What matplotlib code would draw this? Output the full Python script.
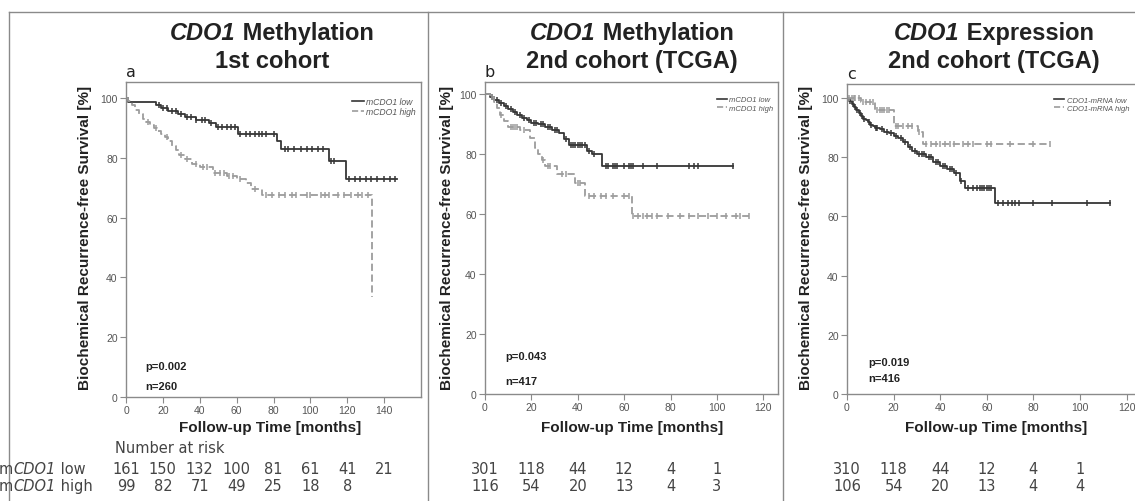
import numpy as np
import matplotlib
matplotlib.use("Agg")
import matplotlib.pyplot as plt
from matplotlib import transforms
from matplotlib.lines import Line2D

W, H = 1135, 502

# ---------------- data ----------------
# panel a: CDO1 methylation, 1st cohort
a_low_t = [0, 1, 16, 19, 23, 28, 32, 38, 45, 49, 61, 82, 84, 110, 119.5]
a_low_s = [100, 98.5, 97.5, 96.5, 95.5, 94.5, 93.5, 92.5, 91.5, 90.2, 88, 85.5, 83, 79, 73]
a_low_end = 147
a_low_cens = [18, 20, 22, 25, 27, 30, 33, 35, 38, 41, 43, 46, 50, 52, 55, 57, 59, 62, 65, 67,
              70, 72, 74, 76, 80, 86, 88, 91, 95, 98, 101, 104, 107, 111, 113, 121, 124, 127,
              130, 133, 136, 140, 143, 146]
a_high_t = [0, 1, 3, 5, 7, 9, 11, 13, 15, 17, 19, 21, 23, 25, 27, 29, 32, 36, 40, 47, 55, 60,
            65, 68, 74, 133.5]
a_high_s = [100, 99, 97.5, 96, 94.5, 93, 92, 91, 90, 89, 88, 87, 85.5, 84, 82.5, 81, 79.5, 78,
            77, 75, 74, 73, 71.5, 69.5, 67.5, 33.5]
a_high_end = 133.5
a_high_cens = [12, 16, 22, 30, 33, 38, 42, 44, 48, 51, 53, 56, 58, 62, 70, 76, 79, 83, 86, 90,
               92, 98, 100, 106, 108, 110, 115, 118, 122, 126, 128, 131]

# panel b: CDO1 methylation, TCGA
b_low_t = [0, 2, 4, 6, 8, 10, 12, 14, 16, 18, 20, 23, 26, 29, 32, 34, 36, 44, 46, 50.5]
b_low_s = [100, 99, 98, 97, 96, 95, 94, 93, 92, 91.5, 90.5, 90, 89, 88, 87, 85, 83, 81, 80, 76]
b_low_end = 107
b_low_cens = [3, 5, 7, 9, 11, 13, 15, 17, 19, 21, 22, 24, 25, 27, 28, 30, 31, 35, 37, 38, 39,
              40, 41, 42, 43, 45, 47, 52, 53, 55, 56, 57, 60, 62, 63, 64, 68, 74, 88, 90, 92, 107]
b_high_t = [0, 2, 4, 5, 6.5, 8, 10, 15, 19.5, 21.5, 23, 24.5, 26, 31, 39, 43, 63.5]
b_high_s = [100, 99, 97.5, 95.5, 93, 91, 89, 88, 85.5, 82, 80, 78, 76, 73.5, 70.5, 66, 59.5]
b_high_end = 114
b_high_cens = [3, 7, 11, 12, 13, 14, 17, 25, 27, 28, 33, 35, 40, 41, 45, 47, 50, 52, 55, 60, 62,
               64, 66, 68, 70, 72, 74, 79, 84, 88, 92, 96, 100, 104, 108, 110, 114]

# panel c: CDO1 expression, TCGA
c_low_t = [0, 1, 2, 3, 4, 5, 6, 7, 8, 9, 10, 11, 12, 14, 16, 18, 20, 22, 24, 26, 28, 30, 34, 37,
           40, 43, 46, 48.5, 50.5, 63.5]
c_low_s = [100, 99, 98, 97, 96, 95, 94, 93, 92.5, 92, 91, 90.5, 90, 89.5, 88.5, 88, 87, 86.5,
           85, 83.5, 82, 81, 80, 78.5, 77, 76, 74.5, 72, 69.5, 64.5]
c_low_end = 113
c_low_cens = [1.5, 2.5, 3.5, 4.5, 5.5, 6.5, 7.5, 9.5, 10.5, 12.5, 13, 15, 17, 19, 21, 23, 25, 27,
              29, 31, 32, 33, 35, 36, 38, 39, 41, 42, 44, 45, 47, 49, 52, 54, 56, 57, 58, 59, 60,
              61, 62, 65, 67, 69, 71, 72, 74, 80, 88, 103, 113]
c_high_t = [0, 6, 12, 20, 30.5, 32.5]
c_high_s = [100, 98.5, 96, 90.5, 88.5, 84.5]
c_high_end = 87
c_high_cens = [1, 2, 3, 3.5, 5, 7, 8, 10, 11, 13, 14, 15, 16, 17, 18, 21, 22, 24, 26, 28, 31, 34,
               36, 38, 40, 42, 44, 46, 50, 52, 54, 60, 62, 70, 80, 87]

titles_1 = [("CDO1", " Methylation"), ("CDO1", " Methylation"), ("CDO1", " Expression")]
titles_2 = ["1st cohort", "2nd cohort (TCGA)", "2nd cohort (TCGA)"]
letters = ["a", "b", "c"]
p_text = ["p=0.002", "p=0.043", "p=0.019"]
n_text = ["n=260", "n=417", "n=416"]
legend_a = ["mCDO1 low", "mCDO1 high"]
legend_c = ["CDO1-mRNA low", "CDO1-mRNA high"]

risk_times_a = [0, 20, 40, 60, 80, 100, 120, 140]
risk_low_a = [161, 150, 132, 100, 81, 61, 41, 21]
risk_high_a = [99, 82, 71, 49, 25, 18, 8]
risk_times_bc = [0, 20, 40, 60, 80, 100]
risk_low_b = [301, 118, 44, 12, 4, 1]
risk_high_b = [116, 54, 20, 13, 4, 3]
risk_low_c = [310, 118, 44, 12, 4, 1]
risk_high_c = [106, 54, 20, 13, 4, 4]

DARK = "#363636"
LIGHT = "#9c9c9c"
FRAME = "#8a8a8a"
TEXT = "#222222"

fig = plt.figure(figsize=(W / 100, H / 100), dpi=100)
fig.patch.set_facecolor("white")


def fx(px):
    return px / W


def fy(py):
    return 1 - py / H


def rich(x, y, parts, size, ha="center", va="baseline", color=TEXT, family="Liberation Sans"):
    # draws a row of text pieces (text, style, weight) side by side
    texts = [fig.text(0, 0, s, fontsize=size, fontstyle=st, fontweight=wt, color=color,
                      family=family, ha="left", va=va) for s, st, wt in parts]
    r = fig.canvas.get_renderer()
    widths = [t.get_window_extent(r).width for t in texts]
    start = x - sum(widths) / 2 if ha == "center" else x
    for t, w in zip(texts, widths):
        t.set_position((fx(start), fy(y)))
        start += w


def km(ax, t, s, end, cens, color, ls):
    t = np.array(t + [end])
    s = np.array(s + [s[-1]])
    ax.step(t, s, where="post", color=color, lw=1.3, ls=ls, dashes=(4, 2) if ls == "--" else (None, None))
    idx = np.searchsorted(t, cens, side="right") - 1
    ax.plot(cens, s[np.clip(idx, 0, len(s) - 1)], ls="none", marker="|", ms=5, mew=1.1, color=color)


def make_axes(left, right, top, bottom, xmax, ymax, xtick_max):
    ax = fig.add_axes([fx(left), fy(bottom), fx(right) - fx(left), fy(top) - fy(bottom)])
    ax.set_xlim(0, xmax)
    ax.set_ylim(0, ymax)
    ax.set_xticks(range(0, xtick_max + 1, 20))
    ax.set_yticks(range(0, 101, 20))
    for sp in ax.spines.values():
        sp.set_color(FRAME)
        sp.set_linewidth(1)
    ax.tick_params(direction="out", length=4, width=0.8, color=FRAME, labelsize=7.5,
                   labelcolor="#555555", pad=2)
    for lab in ax.get_xticklabels() + ax.get_yticklabels():
        lab.set_family("Liberation Sans")
    ax.set_facecolor("white")
    return ax


ax_a = make_axes(126, 421, 83, 398, 160, 105.3, 140)
ax_b = make_axes(485, 778, 83, 395, 126.3, 104, 120)
ax_c = make_axes(847, 1141, 85, 395, 126.2, 104.7, 120)

km(ax_a, a_low_t, a_low_s, a_low_end, a_low_cens, DARK, "-")
km(ax_a, a_high_t, a_high_s, a_high_end, a_high_cens, LIGHT, "--")
km(ax_b, b_low_t, b_low_s, b_low_end, b_low_cens, DARK, "-")
km(ax_b, b_high_t, b_high_s, b_high_end, b_high_cens, LIGHT, "--")
km(ax_c, c_low_t, c_low_s, c_low_end, c_low_cens, DARK, "-")
km(ax_c, c_high_t, c_high_s, c_high_end, c_high_cens, LIGHT, "--")

axes = [ax_a, ax_b, ax_c]

# legends
handles = [Line2D([], [], color=DARK, lw=1.2), Line2D([], [], color=LIGHT, lw=1.2, ls="--")]
leg_pos = [((1.0, 0.97), "upper right", legend_a, 6.2),
           ((1.0, 0.97), "upper right", legend_a, 5.5),
           ((0.69, 0.975), "upper left", legend_c, 5.5)]
for ax, (anchor, loc, labs, fs) in zip(axes, leg_pos):
    ax.legend(handles, labs, loc=loc, bbox_to_anchor=anchor, frameon=False,
              handlelength=1.3, handletextpad=0.3, labelspacing=0.15, borderpad=0.1,
              prop={"family": "Liberation Sans", "style": "italic", "size": fs},
              labelcolor="#555555")

# p / n annotations
pn_pos = [(10.3, 10.4, 3.7), (8.6, 12.5, 4.4), (9.0, 10.8, 5.4)]
for ax, (x, yp, yn), p, n in zip(axes, pn_pos, p_text, n_text):
    ax.text(x, yp, p, fontsize=8, fontweight="bold", color=TEXT, va="center",
            family="Liberation Sans")
    ax.text(x, yn, n, fontsize=8, fontweight="bold", color=TEXT, va="center",
            family="Liberation Sans")

# titles
title_x = [272, 632, 994]
for cx, (it, rest), t2 in zip(title_x, titles_1, titles_2):
    rich(cx, 40, [(it, "italic", "bold"), (rest, "normal", "bold")], 17)
    fig.text(fx(cx), fy(68), t2, fontsize=17, fontweight="bold", ha="center", va="baseline",
             color=TEXT, family="Liberation Sans")

# panel letters
for ax, let in zip(axes, letters):
    ax.text(0.0, 1.01, let, transform=ax.transAxes, fontsize=11.5, color=TEXT,
            family="DejaVu Sans", ha="left", va="bottom")

# axis labels
ylab_x = [85, 447, 806]
for x in ylab_x:
    fig.text(fx(x), fy(238), "Biochemical Recurrence-free Survival [%]", rotation=90,
             fontsize=11, fontweight="bold", ha="center", va="center", color=TEXT,
             family="Liberation Sans")
xlab_x = [270, 632, 996]
for x in xlab_x:
    fig.text(fx(x), fy(428), "Follow-up Time [months]", fontsize=11, fontweight="bold",
             ha="center", va="center", color=TEXT, family="Liberation Sans")

# number at risk table
RISK_FS = 10.5
fig.text(fx(115), fy(449), "Number at risk", fontsize=RISK_FS, color="#444444",
         family="DejaVu Sans", va="center")
rich(-1, 474, [("m", "normal", "normal"), ("CDO1", "italic", "normal"), (" low", "normal", "normal")],
     RISK_FS, ha="left", color="#444444", family="DejaVu Sans")
rich(-1, 491, [("m", "normal", "normal"), ("CDO1", "italic", "normal"), (" high", "normal", "normal")],
     RISK_FS, ha="left", color="#444444", family="DejaVu Sans")

risk_rows = [(ax_a, risk_times_a, risk_low_a, risk_high_a),
             (ax_b, risk_times_bc, risk_low_b, risk_high_b),
             (ax_c, risk_times_bc, risk_low_c, risk_high_c)]
for ax, times, low, high in risk_rows:
    tr = transforms.blended_transform_factory(ax.transData, fig.transFigure)
    for t, v in zip(times, low):
        fig.text(t, fy(470), str(v), transform=tr, fontsize=RISK_FS, color="#444444",
                 ha="center", va="center", family="DejaVu Sans")
    for t, v in zip(times, high):
        fig.text(t, fy(487), str(v), transform=tr, fontsize=RISK_FS, color="#444444",
                 ha="center", va="center", family="DejaVu Sans")

# outer frame and panel dividers
frame = dict(color=FRAME, lw=1, transform=fig.transFigure)
fig.add_artist(Line2D([fx(9), fx(9)], [fy(13), 0], **frame))
fig.add_artist(Line2D([fx(9), 1], [fy(13), fy(13)], **frame))
for x in [428, 783]:
    fig.add_artist(Line2D([fx(x), fx(x)], [fy(13), 0], **frame))

fig.savefig("out.png", dpi=100)
